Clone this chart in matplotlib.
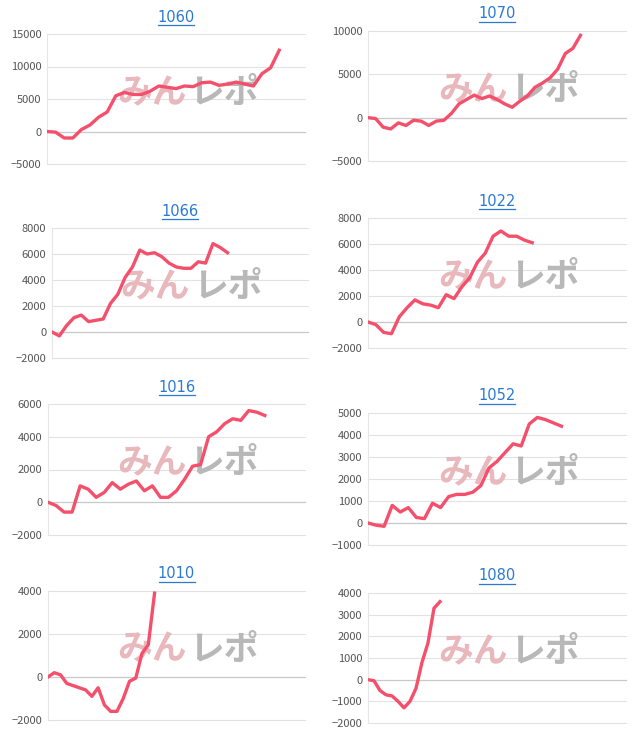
import matplotlib
matplotlib.use("Agg")
import matplotlib.pyplot as plt

plt.rcParams["font.family"] = ["Noto Sans CJK JP", "DejaVu Sans"]

# series values (cumulative), one list per machine
s1060 = [0, -100, -1000, -1000, 300, 1000, 2200, 3000, 5500, 6000, 5700, 5700, 6200, 7000,
         6800, 6600, 7000, 6900, 7500, 7600, 7100, 7300, 7600, 7300, 7000, 8900, 9800, 12500]
s1070 = [0, -100, -1100, -1300, -600, -900, -300, -400, -900, -400, -300, 500, 1600, 2100,
         2600, 2200, 2500, 2100, 1600, 1200, 1900, 2500, 3500, 4000, 4600, 5600, 7400, 8000, 9500]
s1066 = [0, -300, 500, 1100, 1300, 800, 900, 1000, 2200, 2900, 4200, 5000, 6300, 6000, 6100,
         5800, 5300, 5000, 4900, 4900, 5400, 5300, 6800, 6500, 6100]
s1022 = [0, -200, -800, -900, 400, 1100, 1700, 1400, 1300, 1100, 2100, 1800, 2700, 3400,
         4600, 5300, 6600, 7000, 6600, 6600, 6300, 6100]
s1016 = [0, -200, -600, -600, 1000, 800, 300, 600, 1200, 800, 1100, 1300, 700, 1000, 300, 300,
         700, 1400, 2200, 2300, 4000, 4300, 4800, 5100, 5000, 5600, 5500, 5300]
s1052 = [0, -100, -150, 800, 500, 700, 250, 200, 900, 700, 1200, 1300, 1300, 1400, 1700, 2500,
         2800, 3200, 3600, 3500, 4500, 4800, 4700, 4550, 4400]
s1010 = [0, 200, 100, -300, -400, -500, -600, -900, -500, -1300, -1600, -1600, -1000, -200,
         -50, 1100, 1500, 3900]
s1080 = [0, -50, -500, -700, -750, -1000, -1300, -1000, -400, 800, 1700, 3300, 3600]

titles = ["1060", "1070", "1066", "1022", "1016", "1052", "1010", "1080"]
series = [s1060, s1070, s1066, s1022, s1016, s1052, s1010, s1080]
yticks = [
    [-5000, 0, 5000, 10000, 15000],
    [-5000, 0, 5000, 10000],
    [-2000, 0, 2000, 4000, 6000, 8000],
    [-2000, 0, 2000, 4000, 6000, 8000],
    [-2000, 0, 2000, 4000, 6000],
    [-1000, 0, 1000, 2000, 3000, 4000, 5000],
    [-2000, 0, 2000, 4000],
    [-2000, -1000, 0, 1000, 2000, 3000, 4000],
]
xmax = [30, 34, 35, 33, 32, 32, 41, 43]

# axes boxes in pixels (left, top, right, bottom)
boxes = [
    (47, 34, 305, 164), (368, 31, 626, 161),
    (52, 228, 308, 358), (368, 218, 626, 348),
    (48, 404, 305, 535), (368, 413, 626, 545),
    (48, 591, 305, 720), (368, 593, 626, 723),
]

W, H = 640, 745
fig = plt.figure(figsize=(W / 100, H / 100), dpi=100)

for title, ys, ticks, xm, (l, t, r, b) in zip(titles, series, yticks, xmax, boxes):
    ax = fig.add_axes([l / W, 1 - b / H, (r - l) / W, (b - t) / H])
    ax.set_ylim(ticks[0], ticks[-1])
    ax.set_xlim(0, xm)
    ax.set_yticks(ticks)
    ax.set_xticks([])
    for v in ticks:
        ax.axhline(v, color="#c8c8c8" if v == 0 else "#e2e2e2",
                   lw=0.9 if v == 0 else 0.8, zorder=1, clip_on=False)
    for side in ["top", "right", "bottom"]:
        ax.spines[side].set_visible(False)
    ax.spines["left"].set_color("#e6e6e6")
    ax.tick_params(axis="y", length=0, labelsize=8, colors="#555555", pad=4)
    # watermark
    ax.text(0.54, 0.55, "みん", transform=ax.transAxes, fontsize=25, fontweight="bold",
            style="italic", color="#e8b8bc", ha="right", va="center", zorder=1)
    ax.text(0.55, 0.55, "レポ", transform=ax.transAxes, fontsize=25, fontweight="bold",
            style="italic", color="#b8b8b8", ha="left", va="center", zorder=1)
    ax.plot(range(len(ys)), ys, color="#f4506c", lw=2.4, zorder=3, solid_joinstyle="round")
    fig.text((l + r) / 2 / W, 1 - (t - 17) / H, title, ha="center", va="center",
             fontsize=10.5, color="#2a7ad2", family="DejaVu Sans")
    # underline
    fig.add_artist(plt.Line2D([((l + r) / 2 - 18) / W, ((l + r) / 2 + 18) / W],
                              [1 - (t - 9) / H] * 2, color="#2a7ad2", lw=0.9))

fig.savefig("out.png", dpi=100)
